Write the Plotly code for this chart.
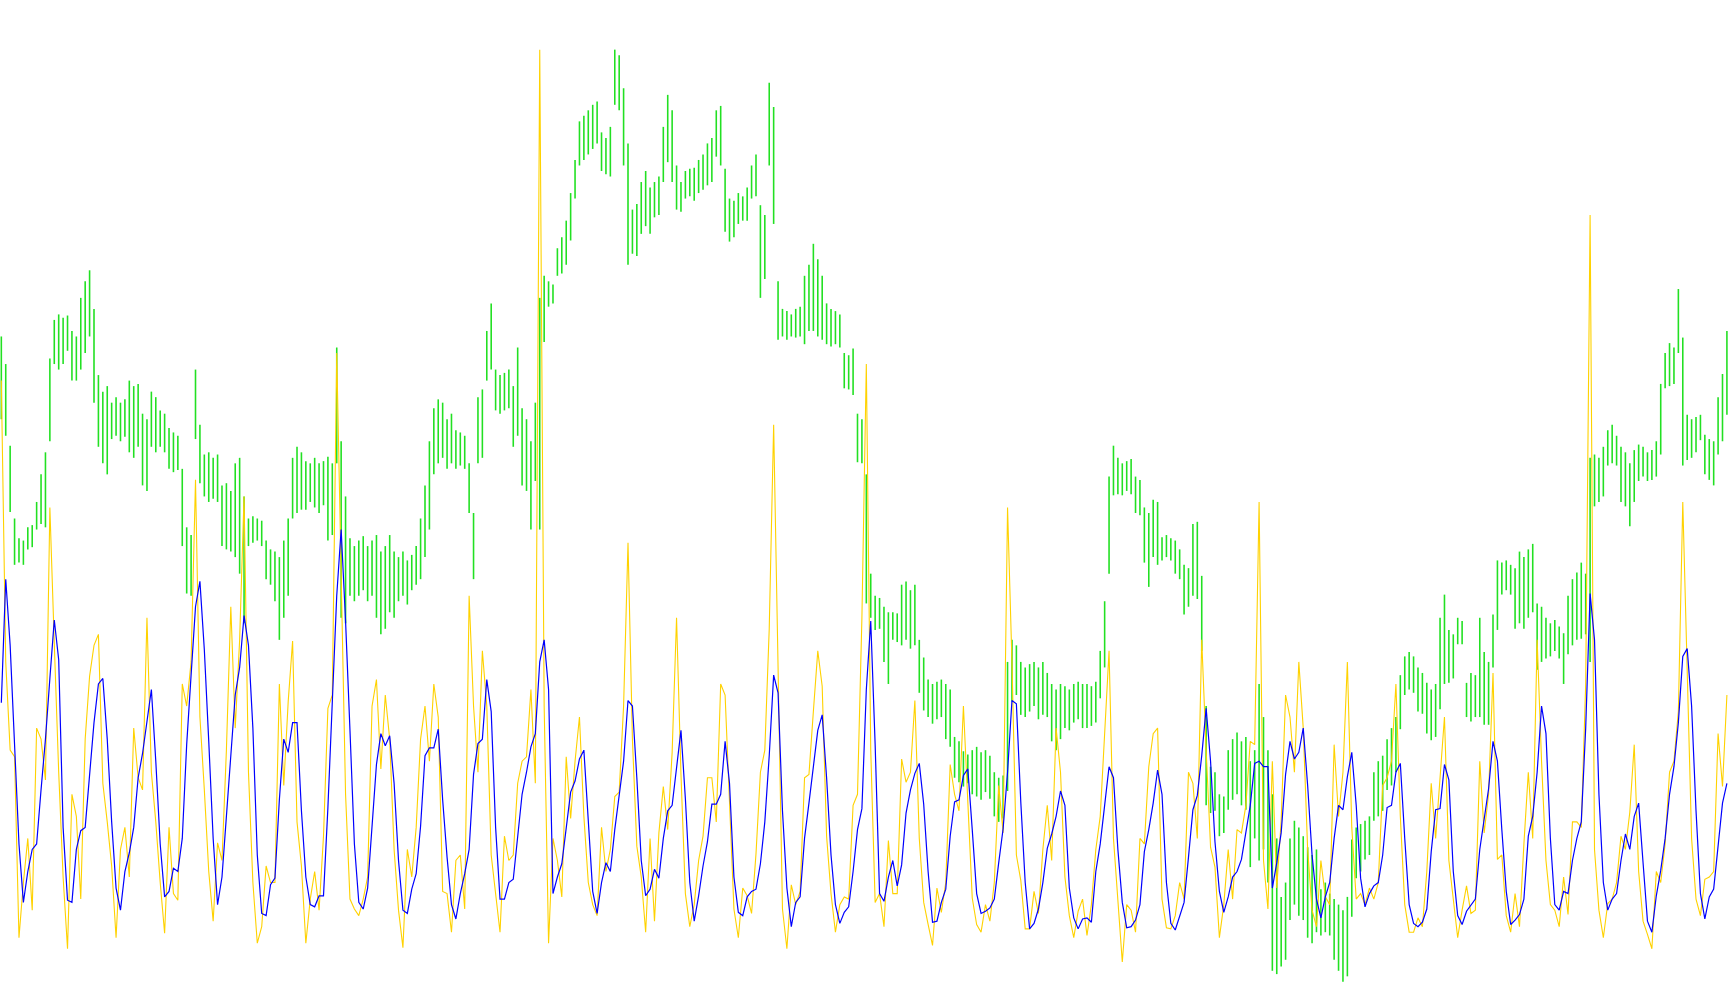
import plotly.graph_objects as go

# Price bars (high / low)
price_high = [
    595,570,496,430,412,410,422,424,445,470,
    490,575,610,615,612,614,600,595,630,645,
    655,620,560,545,550,535,540,535,538,555,
    550,552,525,520,545,540,528,525,512,508,
    505,475,422,415,565,515,488,490,485,488,
    460,462,455,480,485,450,430,432,430,428,
    410,402,400,395,410,430,485,495,490,482,
    480,485,480,482,486,480,585,500,450,412,
    405,410,414,405,410,415,400,405,415,400,
    395,400,392,397,405,430,460,500,530,538,
    535,520,525,510,508,505,480,435,540,547,
    600,625,565,560,562,565,550,585,530,520,
    500,535,630,650,645,642,675,685,700,725,
    755,790,795,800,805,808,780,775,785,855,
    850,820,770,710,715,735,745,730,735,740,
    785,814,800,750,735,745,747,748,755,760,
    770,775,800,804,747,720,718,725,722,730,
    750,760,714,705,825,803,645,620,618,615,
    620,622,650,660,679,665,650,625,620,618,
    615,580,578,584,525,520,470,380,360,358,
    350,345,345,344,370,373,365,370,320,304,
    284,280,282,284,280,275,232,228,219,216,
    220,223,218,220,215,200,195,197,300,320,
    315,300,295,298,300,295,300,290,280,275,
    280,278,275,280,282,280,280,278,282,310,
    355,468,496,485,480,482,484,468,465,440,
    435,447,445,413,415,412,410,402,388,385,
    425,427,378,260,205,200,180,178,220,230,
    236,228,232,210,220,280,250,220,180,140,
    87,100,140,156,150,142,132,125,130,94,
    100,90,85,80,75,87,139,150,153,156,
    160,200,210,215,230,240,250,288,305,309,
    305,295,290,281,275,280,340,361,329,325,
    340,337,281,290,288,340,309,300,343,392,
    390,392,388,385,400,395,402,407,353,350,
    340,335,338,332,326,360,375,381,390,380,
    485,488,485,495,510,515,505,495,490,480,
    492,497,495,490,492,500,552,580,589,585,
    638,594,524,520,522,524,506,502,500,540,
    561,600,
]

price_low = [
    520,505,436,388,390,388,402,404,420,425,
    422,500,570,565,570,582,555,555,565,580,
    595,535,495,480,470,502,505,500,504,490,
    485,495,460,455,495,490,495,490,475,472,
    474,405,362,360,502,462,450,445,448,445,
    405,402,400,395,380,335,405,408,410,405,
    375,370,355,320,340,360,430,435,438,438,
    445,440,435,442,410,415,480,340,335,360,
    355,360,365,355,360,340,325,330,345,340,
    355,360,352,365,370,375,395,420,470,480,
    485,475,480,475,478,475,435,375,480,485,
    555,565,528,525,528,530,495,505,460,455,
    420,464,420,590,622,625,650,652,660,682,
    720,750,755,760,765,770,745,742,740,805,
    800,750,660,670,668,688,695,688,703,705,
    735,753,735,710,708,720,722,718,725,728,
    732,735,758,750,690,681,685,697,700,700,
    720,722,630,647,750,697,592,595,592,595,
    594,595,588,600,600,595,592,588,586,588,
    585,548,547,542,481,480,353,340,329,330,
    300,280,320,318,315,320,312,315,272,256,
    250,244,248,250,230,223,195,191,187,190,
    180,178,175,182,176,160,155,158,183,264,
    270,252,250,255,260,248,252,250,228,220,
    230,240,238,245,248,240,240,242,245,267,
    295,380,451,452,451,455,452,435,433,390,
    368,395,388,392,395,392,380,375,343,350,
    360,357,310,170,163,165,142,145,166,175,
    180,170,166,114,140,120,130,100,20,17,
    24,30,66,80,70,66,50,45,55,52,
    55,52,30,20,10,15,69,104,110,121,
    125,156,160,165,184,188,200,239,270,275,
    272,255,253,235,229,232,257,280,281,285,
    316,316,250,246,250,250,243,243,295,329,
    361,365,361,330,335,330,340,345,293,300,
    303,305,310,303,280,307,315,320,321,325,
    300,441,445,450,478,480,478,445,441,423,
    445,464,468,464,465,468,488,548,550,552,
    580,478,483,485,490,501,470,465,460,488,
    500,524,
]

# Fast oscillator (gold line)
fast_osc = [
    555,300,220,214,50,100,140,75,240,230,
    193,440,317,200,105,40,180,160,85,230,
    287,315,325,190,155,115,50,130,150,105,
    240,195,184,340,200,155,100,54,150,90,
    84,280,260,300,465,250,184,110,65,136,
    120,220,350,240,320,450,200,100,45,60,
    115,100,100,280,188,264,319,155,115,45,
    85,110,75,142,258,270,580,380,180,85,
    76,70,85,105,260,284,203,270,230,130,
    75,41,130,105,150,230,260,210,280,250,
    92,90,55,120,125,76,360,260,200,310,
    260,125,90,55,142,120,125,190,210,214,
    275,190,855,260,45,140,120,87,214,158,
    210,250,160,100,80,70,150,110,130,178,
    182,260,408,230,133,105,55,140,65,145,
    187,148,218,340,198,90,60,80,120,142,
    195,195,155,280,270,170,76,50,95,88,
    72,126,200,220,330,515,300,76,40,98,
    80,92,195,198,255,310,278,142,90,55,
    80,87,85,170,180,340,570,220,82,90,
    60,138,90,90,212,191,200,265,140,82,
    62,43,95,73,100,207,180,165,260,170,
    86,62,55,80,65,100,188,145,440,300,
    125,102,58,58,92,72,130,170,120,240,
    200,105,70,50,74,85,52,80,130,160,
    236,310,140,85,28,80,75,55,140,135,
    205,235,240,85,59,58,70,100,85,200,
    190,140,320,220,132,114,50,80,130,85,
    148,145,170,228,225,445,120,76,210,95,
    156,270,250,200,300,240,130,75,60,120,
    87,80,225,160,200,300,150,85,90,80,
    95,85,100,188,195,210,280,160,80,55,
    55,68,60,110,190,140,200,250,120,82,
    50,75,97,72,75,210,145,180,290,121,
    125,70,55,90,60,135,200,140,320,210,
    120,80,75,60,105,71,155,155,150,280,
    705,130,75,50,81,85,100,142,130,164,
    225,110,65,53,40,110,100,135,200,210,
    255,445,280,140,85,70,103,105,110,235,
    187,270,
]

# Slow oscillator (blue line)
slow_osc = [
    263,375,315,220,135,82,110,130,135,184,
    230,285,338,302,150,84,82,130,147,150,
    200,245,280,285,230,155,95,75,110,127,
    150,195,217,245,275,210,135,87,92,113,
    110,140,225,288,350,373,311,228,140,80,
    105,160,215,270,295,342,315,240,125,72,
    70,98,104,175,230,218,245,245,165,105,
    80,78,88,88,168,264,360,420,337,238,
    135,82,76,95,150,207,235,224,233,190,
    120,75,72,94,108,151,215,222,222,239,
    175,123,80,67,90,108,130,198,226,230,
    284,255,150,85,85,100,103,140,180,200,
    223,235,300,320,275,90,105,117,150,182,
    192,212,220,160,92,72,100,118,110,148,
    180,210,265,260,195,120,88,94,112,104,
    140,165,170,205,238,176,100,65,88,115,
    137,171,171,180,228,190,105,73,70,87,
    92,94,117,155,215,288,272,165,95,60,
    82,87,140,172,203,238,252,195,125,80,
    63,73,78,110,148,167,275,337,225,90,
    83,105,120,97,116,163,184,199,208,171,
    110,64,65,82,94,142,173,175,197,203,
    148,90,72,74,77,85,118,149,200,265,
    262,173,100,58,63,76,100,131,144,160,
    183,170,95,68,58,67,68,64,110,135,
    170,205,195,130,82,59,60,66,80,128,
    148,172,202,180,100,63,57,70,82,123,
    166,179,215,258,210,137,92,73,87,105,
    110,121,145,170,208,210,205,205,95,118,
    145,198,228,212,218,240,188,125,85,68,
    87,100,140,170,166,196,218,170,104,78,
    90,97,100,125,168,170,200,208,140,80,
    63,60,64,76,128,166,167,207,193,110,
    70,62,74,80,85,130,160,185,228,210,
    148,92,62,66,71,85,142,160,200,260,
    235,140,80,75,92,90,120,140,155,240,
    362,320,180,100,75,85,90,120,144,130,
    160,172,118,65,55,88,111,140,180,205,
    245,305,312,260,165,90,67,87,94,135,
    172,190,
]

n_bars = min(len(price_high), len(price_low))
bar_idx = list(range(n_bars))
fast_idx = list(range(len(fast_osc)))
slow_idx = list(range(len(slow_osc)))

fig = go.Figure()

fig.add_trace(go.Bar(
    x=bar_idx,
    y=[price_high[i] - price_low[i] for i in bar_idx],
    base=price_low[:n_bars],
    width=0.36,
    marker=dict(color="#22e022", line=dict(width=0)),
    hoverinfo="skip",
))

fig.add_trace(go.Scatter(
    x=fast_idx, y=fast_osc, mode="lines",
    line=dict(color="#ffd200", width=1.1),
    hoverinfo="skip",
))

fig.add_trace(go.Scatter(
    x=slow_idx, y=slow_osc, mode="lines",
    line=dict(color="#0000ff", width=1.2),
    hoverinfo="skip",
))

fig.update_layout(
    width=1730, height=1005,
    margin=dict(l=0, r=0, t=0, b=0, pad=0),
    paper_bgcolor="white", plot_bgcolor="white",
    showlegend=False,
    xaxis=dict(visible=False, range=[-0.3, 391.7]),
    yaxis=dict(visible=False, range=[-11, 900]),
)

fig.write_html(
    "out.html",
    config={"displayModeBar": False, "staticPlot": True},
    post_script="document.body.style.margin='0';document.body.style.overflow='hidden';",
)
